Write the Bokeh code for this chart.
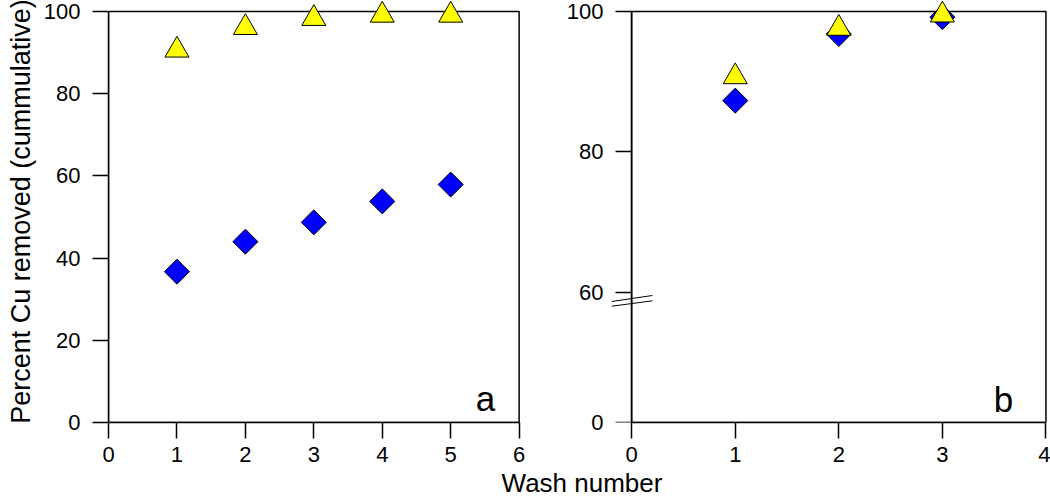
import math
from bokeh.plotting import figure
from bokeh.models import (Range1d, FixedTicker, BoxAnnotation, Label, Arrow,
                          Div, LinearAxis)
from bokeh.layouts import row, column
from bokeh.embed import file_html
from bokeh.resources import INLINE

FONT = "Liberation Sans"

# ---- data: panel a ----
wash_a = [1, 2, 3, 4, 5]
tri_a = [90.6, 96.1, 98.3, 99.1, 99.1]
dia_a = [36.7, 44.0, 48.7, 53.8, 57.9]

# ---- data: panel b ----
wash_b = [1, 2, 3]
tri_b = [90.7, 97.6, 99.5]
dia_b = [87.3, 96.8, 99.2]

# ---- ticks ----
x_ticks_a = [0, 1, 2, 3, 4, 5, 6]
y_ticks_a = [0, 20, 40, 60, 80, 100]
x_ticks_b = [0, 1, 2, 3, 4]
BREAK_ZERO = 41.43          # plotted position of "0" below the axis break
y_ticks_b = [BREAK_ZERO, 60, 80, 100]
y_labels_b = ["0", "60", "80", "100"]

Y_LABEL = "Percent Cu removed (cummulative)"
X_LABEL = "Wash number"


def style_axis(ax):
    ax.axis_line_color = "black"
    ax.axis_line_width = 1.5
    ax.major_tick_line_color = "black"
    ax.major_tick_line_width = 1.5
    ax.major_tick_out = 16
    ax.major_tick_in = 0
    ax.minor_tick_line_color = None
    ax.major_label_text_font = FONT
    ax.major_label_text_font_size = "22px"
    ax.major_label_text_color = "black"
    ax.major_label_standoff = 12
    ax.axis_label_text_font = FONT
    ax.axis_label_text_font_size = "27px"
    ax.axis_label_text_font_style = "normal"
    ax.axis_label_text_color = "black"


def style(p):
    p.xgrid.visible = False
    p.ygrid.visible = False
    p.outline_line_color = None
    p.background_fill_color = "white"
    p.border_fill_color = "white"
    for ax in list(p.xaxis) + list(p.yaxis):
        style_axis(ax)
    for ax in p.xaxis:
        ax.major_label_standoff = 8


def frame_box(left, right, bottom, top):
    return BoxAnnotation(left=left, right=right, bottom=bottom, top=top,
                         fill_color=None, line_color="black", line_alpha=1.0,
                         line_width=1.5, level="underlay")


# ---------------- panel a ----------------
p1 = figure(width=531, height=470,
            x_range=Range1d(0, 6.02), y_range=Range1d(0, 102.68),
            min_border_left=108, min_border_right=11,
            min_border_top=0, min_border_bottom=48,
            output_backend="svg", toolbar_location=None)
style(p1)
p1.xaxis.ticker = FixedTicker(ticks=x_ticks_a)
p1.yaxis.ticker = FixedTicker(ticks=y_ticks_a)
p1.xaxis.bounds = (0, 6)
p1.yaxis.bounds = (0, 100)
p1.yaxis.axis_label = Y_LABEL
p1.yaxis.axis_label_standoff = 5
p1.add_layout(frame_box(0, 6, 0, 100))
p1.scatter(wash_a, dia_a, marker="square", size=17.7, angle=math.pi / 4,
           fill_color="#0000FF", line_color="black", line_width=1)
p1.scatter(wash_a, tri_a, marker="triangle", size=24,
           fill_color="#FFFF00", line_color="black", line_width=1)
p1.add_layout(Label(x=5.51, y=5.9, text="a", text_font=FONT,
                    text_font_size="35px", text_align="center",
                    text_baseline="alphabetic", text_color="black"))

# ---------------- panel b ----------------
p2 = figure(width=519, height=470,
            x_range=Range1d(-0.195, 4.015), y_range=Range1d(BREAK_ZERO, 101.57),
            min_border_left=80, min_border_right=3,
            min_border_top=0, min_border_bottom=48,
            output_backend="svg", toolbar_location=None)
style(p2)
p2.xaxis.ticker = FixedTicker(ticks=x_ticks_b)
p2.xaxis.bounds = (0, 4)

# default left axis: tick labels only (placed at the frame edge)
lab_ax = p2.yaxis[0]
lab_ax.ticker = FixedTicker(ticks=y_ticks_b)
lab_ax.major_label_overrides = dict(zip(y_ticks_b, y_labels_b))
lab_ax.axis_line_color = None
lab_ax.major_tick_line_color = None
lab_ax.major_tick_out = 0
lab_ax.major_label_standoff = 8

# second axis: line and ticks at x = 0
line_ax = LinearAxis(fixed_location=0, ticker=FixedTicker(ticks=y_ticks_b),
                     bounds=(BREAK_ZERO, 100))
style_axis(line_ax)
line_ax.major_label_text_font_size = "0px"
line_ax.major_label_text_color = None
line_ax.major_label_standoff = 0
p2.add_layout(line_ax, "left")

p2.add_layout(frame_box(0, 4, BREAK_ZERO, 100))
# axis-break marks
for ys, ye in [(58.67, 59.53), (58.0, 58.77)]:
    p2.add_layout(Arrow(end=None, x_start=-0.195, y_start=ys,
                        x_end=0.2, y_end=ye,
                        line_color="black", line_width=1))
p2.scatter(wash_b, dia_b, marker="square", size=17.7, angle=math.pi / 4,
           fill_color="#0000FF", line_color="black", line_width=1)
p2.scatter(wash_b, tri_b, marker="triangle", size=24,
           fill_color="#FFFF00", line_color="black", line_width=1)
p2.add_layout(Label(x=3.59, y=44.7, text="b", text_font=FONT,
                    text_font_size="35px", text_align="center",
                    text_baseline="alphabetic", text_color="black"))

xlabel = Div(text=X_LABEL, width=200, height=28, margin=(0, 0, 0, 482),
             styles={"font-family": FONT, "font-size": "26px",
                     "line-height": "27px", "text-align": "center",
                     "color": "black", "white-space": "nowrap"})

layout = column(row(p1, p2), xlabel)
open("out.html", "w").write(file_html(layout, INLINE))
